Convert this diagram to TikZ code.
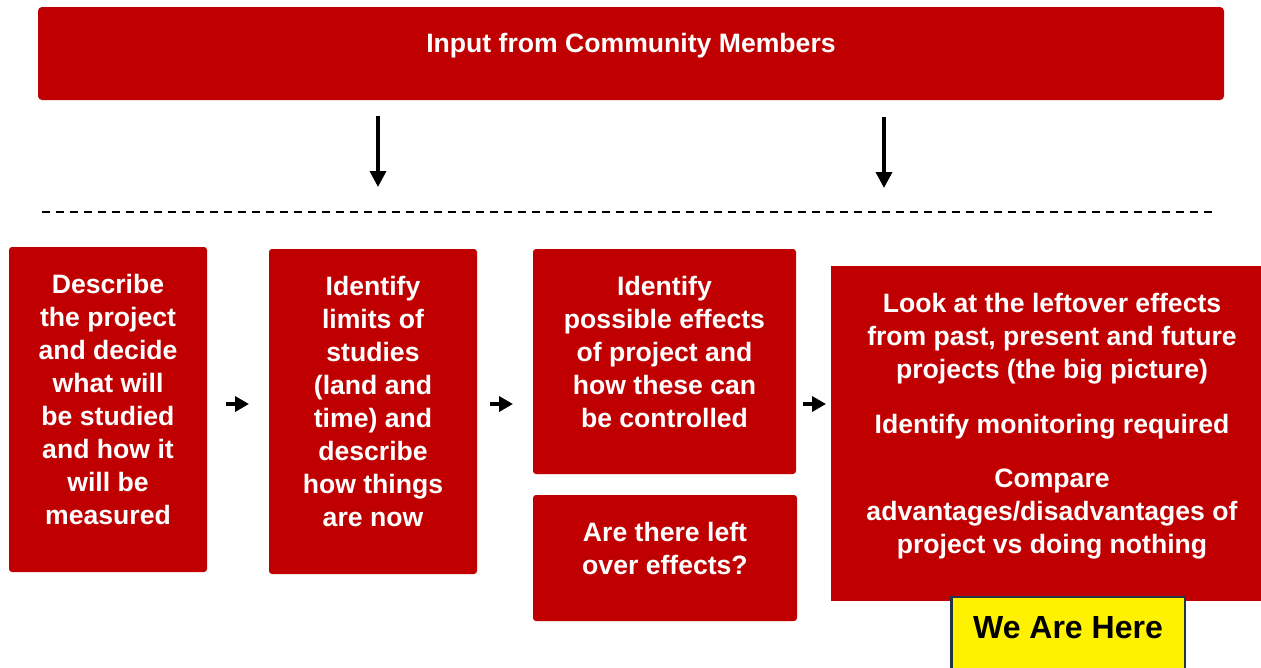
\documentclass[tikz,border=0pt]{standalone}
\usepackage{fontspec}
\setmainfont{Liberation Sans}
\usetikzlibrary{arrows.meta,positioning}
\definecolor{boxred}{HTML}{C00000}
\definecolor{hereedge}{HTML}{243447}

\begin{document}
\begin{tikzpicture}[x=1pt, y=-1pt,
    box/.style={fill=boxred, rounded corners=3pt, inner sep=0pt},
    txt/.style={text=white, font=\bfseries\fontsize{26.6}{33}\selectfont, align=center, anchor=north, inner sep=0pt},
    darr/.style={-{Triangle[length=16pt,width=16pt]}, line width=3.5pt},
    sarr/.style={-{Triangle[length=14pt,width=15pt]}, line width=3.5pt},
    herebox/.style={fill=yellow, draw=hereedge, line width=2.5pt, inner sep=0pt}
]
\useasboundingbox (0,0) rectangle (1261,667);

% top box
\node[box, rounded corners=4pt, minimum width=1186, minimum height=93] (comm) at (631,53.5) {};
\node[txt] (tcomm) at (631,33.5) {Input from Community Members};

\coordinate (d1s) at (378,116);
\coordinate (d1e) at (378,187);
\coordinate (d2s) at (884,117);
\coordinate (d2e) at (884,188);
\draw[darr] (d1s) -- (d1e);
\draw[darr] (d2s) -- (d2e);

\coordinate (dl) at (42,212);
\coordinate (dr) at (1215,212);
\draw[line width=2pt, dash pattern=on 8pt off 6pt] (dl) -- (dr);

% steps
\node[box, minimum width=198, minimum height=325] (b1) at (108,409.5) {};
\node[txt] (t1) at (108,274) {Describe\\the project\\and decide\\what will\\be studied\\and how it\\will be\\measured};

\node[box, minimum width=208, minimum height=325] (b2) at (373,411.5) {};
\node[txt] (t2) at (373,276) {Identify\\limits of\\studies\\(land and\\time) and\\describe\\how things\\are now};

\node[box, minimum width=263, minimum height=225] (b3) at (664.5,361.5) {};
\node[txt] (t3) at (664.5,276) {Identify\\possible effects\\of project and\\how these can\\be controlled};

\node[box, minimum width=264, minimum height=126] (b4) at (665,558) {};
\node[txt] (t4) at (665,522) {Are there left\\over effects?};

\node[box, rounded corners=0pt, minimum width=430, minimum height=335] (b5) at (1046,433.5) {};
\node[txt] (t5) at (1052,293) {Look at the leftover effects\\from past, present and future\\projects (the big picture)\\[22pt]
Identify monitoring required\\[21pt]
Compare\\advantages/disadvantages of\\project vs doing nothing};

\coordinate (s1s) at (226,404);
\coordinate (s1e) at (249,404);
\coordinate (s2s) at (490,404);
\coordinate (s2e) at (513,404);
\coordinate (s3s) at (803,404);
\coordinate (s3e) at (826,404);
\draw[sarr] (s1s) -- (s1e);
\draw[sarr] (s2s) -- (s2e);
\draw[sarr] (s3s) -- (s3e);

\node[herebox, minimum width=233.5, minimum height=94] (here) at (1068,644) {};
\node[font=\bfseries\fontsize{32}{38}\selectfont, inner sep=0pt] (there) at (1068,627.5) {We Are Here};
\end{tikzpicture}
\end{document}
